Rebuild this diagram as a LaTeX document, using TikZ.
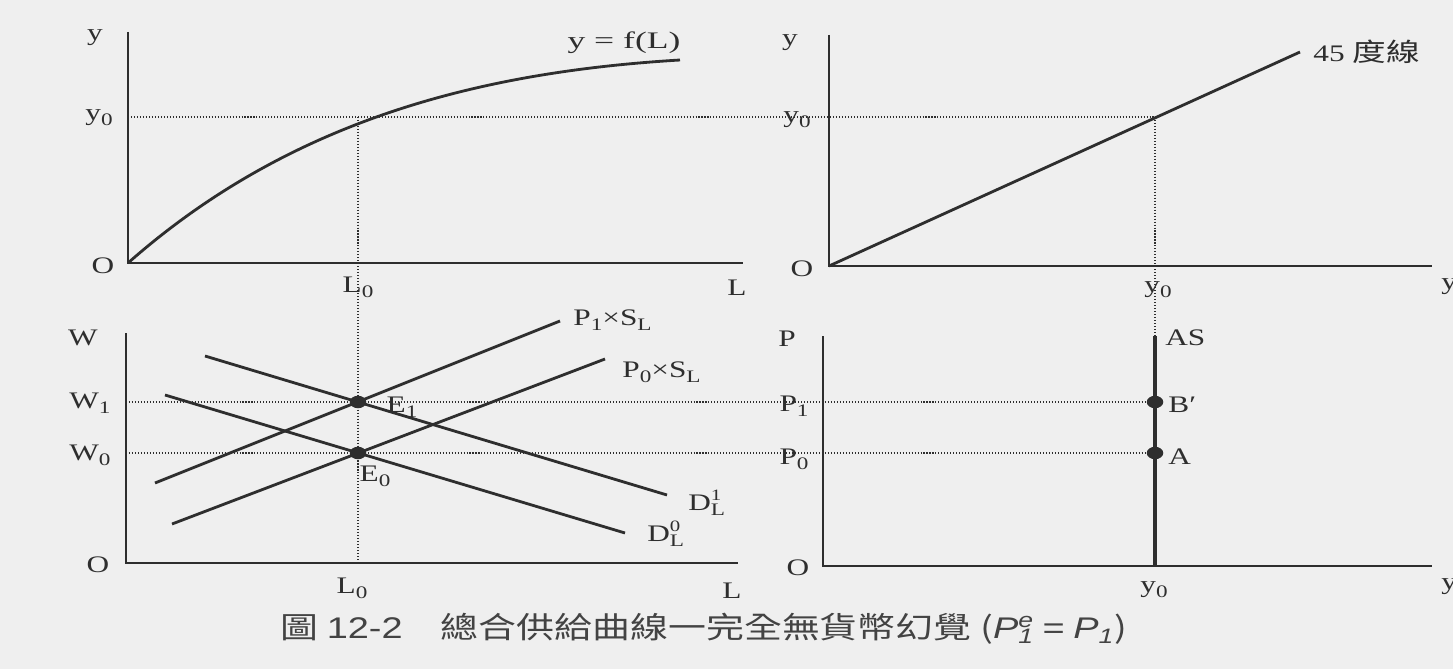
\documentclass[tikz,border=0pt]{standalone}
\usepackage{fontspec}
\usepackage{graphicx}
\usetikzlibrary{shapes.geometric}
\setmainfont{Liberation Serif}
\newfontfamily\cjk{Noto Sans CJK TC}
\newfontfamily\capsans{Liberation Sans}
\definecolor{ink}{HTML}{2E2E2E}
\definecolor{paper}{HTML}{EFEFEF}
\newcommand{\wide}[1]{\scalebox{1.32}[1]{#1}}
\newcommand{\sbs}[1]{\raisebox{-0.45ex}{\fontsize{10}{12}\selectfont #1}}
\newcommand{\sps}[1]{\raisebox{0.9ex}{\fontsize{9}{11}\selectfont #1}}
\newcommand{\stk}[2]{\rlap{\sps{#1}}\sbs{#2}}
\tikzset{
  lab/.style={text=ink, inner sep=0pt, font=\fontsize{13.5}{15}\selectfont},
  axis/.style={draw=ink, line width=1.1pt},
  curve/.style={draw=ink, line width=1.6pt},
  asline/.style={draw=ink, line width=2.3pt},
  guide/.style={draw=ink, line width=0.75pt, dash pattern=on 0.6pt off 1.1pt},
  eqdot/.style={fill=ink, ellipse, inner sep=0pt, minimum width=0.33cm, minimum height=0.25cm},
}
\begin{document}
\begin{tikzpicture}[x=0.02cm, y=-0.02cm]
\fill[paper] (0,0) rectangle (1453,669);
\useasboundingbox (0,0) rectangle (1453,669);

% ---------- top-left: production function ----------
\coordinate (tlY) at (128,32);
\coordinate (tlO) at (128,263);
\coordinate (tlX) at (743,263);
\draw[axis] (tlY) |- (tlX);
\coordinate (fEnd) at (680,60);
\draw[curve] (tlO) .. controls (290,120) and (480,72) .. (fEnd);
\coordinate (fy0) at (358,117);
\coordinate (tlY0) at (128,117);
\node[lab] (tl-y) at (95,38) {\wide{y}};
\node[lab] (tl-y0) at (99,118) {\wide{y\sbs{0}}};
\node[lab] (tl-O) at (103,266) {\wide{O}};
\node[lab] (tl-L0) at (358,287) {\wide{L\sbs{0}}};
\node[lab] (tl-L) at (737,288) {\wide{L}};
\node[lab] (tl-f) at (624,43) {\scalebox{1.5}[1]{y = f(L)}};

% ---------- top-right: 45 degree line ----------
\coordinate (trY) at (829,35);
\coordinate (trO) at (829,266);
\coordinate (trX) at (1432,266);
\draw[axis] (trY) |- (trX);
\coordinate (d45) at (1300,52);
\draw[curve] (trO) -- (d45);
\coordinate (q45) at (1155,117);
\node[lab] (tr-y) at (790,43) {\wide{y}};
\node[lab] (tr-y0) at (797,120) {\wide{y\sbs{0}}};
\node[lab] (tr-O) at (802,269) {\wide{O}};
\node[lab] (tr-y0b) at (1158,290) {\wide{y\sbs{0}}};
\node[lab, anchor=west] (tr-yx) at (1441,287) {\wide{y}};
\node[lab, anchor=west] (tr-45) at (1313,52) {\wide{45 {\cjk\fontsize{14.5}{16}\selectfont 度線}}};

% ---------- bottom-left: labour market ----------
\coordinate (blY) at (126,333);
\coordinate (blO) at (126,563);
\coordinate (blX) at (738,563);
\draw[axis] (blY) |- (blX);
\node[eqdot] (E1) at (358,402) {};
\node[eqdot] (E0) at (358,453) {};
\coordinate (s1a) at (155,483); \coordinate (s1b) at (560,321);
\coordinate (s0a) at (172,524); \coordinate (s0b) at (605,359);
\coordinate (d1a) at (205,356); \coordinate (d1b) at (667,495);
\coordinate (d0a) at (165,395); \coordinate (d0b) at (625,533);
\draw[curve] (s1a) -- (s1b);
\draw[curve] (s0a) -- (s0b);
\draw[curve] (d1a) -- (d1b);
\draw[curve] (d0a) -- (d0b);
\coordinate (blW1) at (126,402);
\coordinate (blW0) at (126,453);
\coordinate (blL0) at (358,563);
\node[lab] (bl-W) at (83,338) {\wide{W}};
\node[lab] (bl-W1) at (90,403) {\wide{W\sbs{1}}};
\node[lab] (bl-W0) at (90,455) {\wide{W\sbs{0}}};
\node[lab] (bl-O) at (98,565) {\wide{O}};
\node[lab] (bl-L0) at (352,588) {\wide{L\sbs{0}}};
\node[lab] (bl-L) at (732,591) {\wide{L}};
\node[lab] (lE1) at (402,407) {\wide{E\sbs{1}}};
\node[lab] (lE0) at (375,476) {\wide{E\sbs{0}}};
\node[lab, anchor=west] (lS1) at (573,320) {\wide{P\sbs{1}×S\sbs{L}}};
\node[lab, anchor=west] (lS0) at (622,372) {\wide{P\sbs{0}×S\sbs{L}}};
\node[lab, anchor=west] (lD1) at (688,503) {\wide{D\stk{1}{L}}};
\node[lab, anchor=west] (lD0) at (647,534) {\wide{D\stk{0}{L}}};

% ---------- bottom-right: aggregate supply ----------
\coordinate (brY) at (823,336);
\coordinate (brO) at (823,566);
\coordinate (brX) at (1432,566);
\draw[axis] (brY) |- (brX);
\coordinate (asTop) at (1155,336);
\coordinate (asBot) at (1155,566);
\draw[asline] (asTop) -- (asBot);
\node[eqdot] (Bp) at (1155,402) {};
\node[eqdot] (A) at (1155,453) {};
\node[lab] (br-P) at (787,339) {\wide{P}};
\node[lab] (br-P1) at (794,406) {\wide{P\sbs{1}}};
\node[lab] (br-P0) at (794,459) {\wide{P\sbs{0}}};
\node[lab] (br-O) at (798,568) {\wide{O}};
\node[lab] (br-y0) at (1154,590) {\wide{y\sbs{0}}};
\node[lab, anchor=west] (br-yx) at (1441,587) {\wide{y}};
\node[lab, anchor=west] (lAS) at (1165,338) {\wide{AS}};
\node[lab, anchor=west] (lBp) at (1168,405) {\wide{B′}};
\node[lab, anchor=west] (lA) at (1168,457) {\wide{A}};

% ---------- guides ----------
\draw[guide] (tlY0) -- (q45);
\draw[guide] (fy0) -- (blL0);
\draw[guide] (q45) -- (asTop);
\draw[guide] (blW1) -- (Bp);
\draw[guide] (blW0) -- (A);

% ---------- caption ----------
\node[text=ink!90, inner sep=0pt, anchor=west] (cap) at (280,629)
  {\scalebox{1.27}[1]{\fontsize{17}{19}\selectfont\cjk 圖\ {\capsans 12-2}\quad 總合供給曲線一完全無貨幣幻覺 ({\capsans\itshape P\rlap{\textsuperscript{e}}\textsubscript{1}} {\capsans =} {\capsans\itshape P\textsubscript{1}})}};
\end{tikzpicture}
\end{document}
